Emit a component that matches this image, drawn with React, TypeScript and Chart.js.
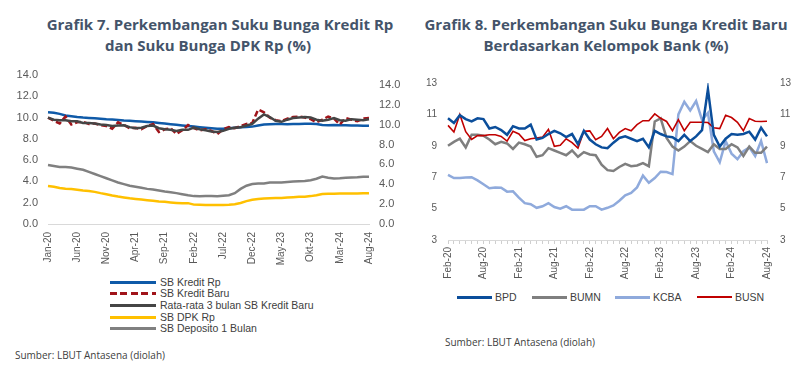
import React, { useEffect, useRef } from "react";
import { Chart, registerables } from "chart.js";

Chart.register(...registerables);

// ---------- Data: Grafik 7 (Jan-20 .. Aug-24, monthly) ----------
const MONTHS = ["Jan", "Feb", "Mar", "Apr", "May", "Jun", "Jul", "Aug", "Sep", "Okt", "Nov", "Dec"];
function monthCategories(startMonth: number, startYear: number, count: number): string[] {
  const out: string[] = [];
  for (let i = 0; i < count; i++) {
    const m = (startMonth + i) % 12;
    const y = startYear + Math.floor((startMonth + i) / 12);
    out.push(MONTHS[m] + "-" + String(y).slice(2));
  }
  return out;
}

const leftCategories = monthCategories(0, 2020, 56);
const leftTickLabels = ["Jan-20", "Jun-20", "Nov-20", "Apr-21", "Sep-21", "Feb-22", "Jul-22", "Dec-22", "May-23", "Okt-23", "Mar-24", "Aug-24"];
const leftAxisTicks = [0, 2, 4, 6, 8, 10, 12, 14];

const sbKreditRp = [10.5, 10.45, 10.35, 10.2, 10.12, 10.05, 10.0, 9.97, 9.93, 9.9, 9.85, 9.82, 9.78, 9.73, 9.7, 9.66, 9.62, 9.58, 9.55, 9.5, 9.45, 9.38, 9.32, 9.26, 9.2, 9.15, 9.1, 9.05, 9.0, 8.95, 8.95, 9.0, 9.05, 9.1, 9.12, 9.15, 9.25, 9.35, 9.38, 9.4, 9.4, 9.38, 9.4, 9.4, 9.41, 9.42, 9.4, 9.3, 9.28, 9.3, 9.28, 9.27, 9.25, 9.25, 9.24, 9.22];
const sbKreditBaru = [10.0, 9.7, 9.45, 10.1, 9.35, 9.55, 9.6, 9.4, 9.45, 9.3, 9.2, 8.95, 9.55, 9.3, 9.0, 9.05, 8.9, 9.2, 9.4, 8.65, 8.9, 9.0, 8.45, 8.8, 9.3, 9.0, 8.8, 8.9, 8.75, 8.45, 8.9, 9.1, 9.0, 9.2, 9.4, 9.5, 10.75, 10.5, 10.0, 9.75, 9.65, 9.9, 10.05, 10.1, 10.0, 9.85, 9.55, 9.8, 10.1, 9.9, 9.35, 9.95, 9.8, 9.65, 9.9, 9.95];
const rataRata3Bulan = [10.0, 9.8, 9.75, 9.75, 9.65, 9.65, 9.5, 9.48, 9.45, 9.35, 9.3, 9.2, 9.25, 9.28, 9.1, 9.0, 9.05, 9.2, 9.25, 9.0, 8.9, 8.85, 8.75, 8.85, 8.85, 9.05, 8.9, 8.8, 8.7, 8.65, 8.75, 8.95, 9.05, 9.1, 9.25, 9.4, 9.9, 10.3, 10.05, 9.7, 9.6, 9.8, 9.95, 10.0, 10.05, 10.0, 9.8, 9.7, 9.8, 9.95, 9.75, 9.7, 9.85, 9.8, 9.75, 9.85];
const sbDpkRp = [3.57, 3.5, 3.38, 3.32, 3.28, 3.22, 3.15, 3.1, 3.02, 2.9, 2.8, 2.68, 2.58, 2.5, 2.42, 2.36, 2.3, 2.24, 2.18, 2.12, 2.08, 2.03, 1.98, 1.94, 1.96, 1.82, 1.8, 1.78, 1.78, 1.78, 1.78, 1.8, 1.85, 1.98, 2.15, 2.28, 2.35, 2.4, 2.42, 2.45, 2.45, 2.5, 2.52, 2.55, 2.57, 2.62, 2.7, 2.82, 2.85, 2.85, 2.86, 2.87, 2.86, 2.87, 2.88, 2.9];
const sbDeposito1Bulan = [5.55, 5.45, 5.35, 5.35, 5.3, 5.2, 5.1, 4.9, 4.7, 4.5, 4.3, 4.1, 3.9, 3.75, 3.6, 3.5, 3.4, 3.3, 3.25, 3.15, 3.05, 2.98, 2.9, 2.8, 2.7, 2.62, 2.6, 2.62, 2.62, 2.6, 2.65, 2.7, 2.9, 3.3, 3.6, 3.75, 3.8, 3.8, 3.9, 3.9, 3.9, 3.95, 4.0, 4.02, 4.05, 4.12, 4.25, 4.45, 4.35, 4.28, 4.3, 4.35, 4.38, 4.4, 4.45, 4.45];

// ---------- Data: Grafik 8 (Feb-20 .. Aug-24, monthly) ----------
const rightCategories = monthCategories(1, 2020, 55);
const rightTickLabels = ["Feb-20", "Aug-20", "Feb-21", "Aug-21", "Feb-22", "Aug-22", "Feb-23", "Aug-23", "Feb-24", "Aug-24"];

const bpd = [10.75, 10.45, 10.95, 10.7, 10.55, 10.75, 10.7, 10.1, 10.2, 10.0, 9.7, 10.25, 10.1, 10.1, 10.35, 9.4, 9.5, 9.75, 9.95, 9.8, 9.55, 9.75, 9.1, 9.95, 9.4, 9.1, 8.9, 8.85, 9.2, 9.5, 9.6, 9.45, 9.3, 9.45, 8.9, 9.95, 9.75, 9.6, 9.55, 9.3, 9.7, 9.3, 9.6, 10.0, 12.6, 9.7, 8.95, 9.45, 9.75, 9.7, 9.75, 9.9, 9.4, 10.15, 9.6];
const bumn = [9.0, 9.25, 9.45, 8.9, 9.7, 9.7, 9.65, 9.4, 9.1, 9.25, 9.15, 8.8, 9.2, 9.1, 8.95, 8.3, 8.4, 8.85, 8.7, 8.55, 8.4, 8.7, 8.3, 8.6, 8.45, 8.4, 7.8, 7.45, 7.4, 7.65, 7.85, 7.7, 7.75, 7.9, 7.7, 10.55, 10.75, 9.5, 8.95, 8.7, 8.95, 9.3, 9.0, 8.8, 8.6, 9.1, 8.8, 8.8, 9.1, 8.9, 8.35, 8.95, 8.55, 8.55, 8.95];
const kcba = [7.15, 6.95, 6.95, 6.98, 7.0, 6.8, 6.55, 6.3, 6.35, 6.33, 6.08, 6.1, 5.7, 5.35, 5.28, 5.05, 5.15, 5.35, 5.1, 5.0, 5.15, 4.93, 4.93, 4.93, 5.15, 5.15, 4.93, 5.05, 5.2, 5.5, 5.85, 6.0, 6.35, 7.1, 6.65, 6.95, 7.35, 7.33, 7.2, 11.0, 11.8, 11.25, 11.85, 10.65, 11.1, 8.65, 7.95, 9.3, 8.5, 8.15, 8.65, 8.9, 8.35, 9.3, 7.9];
const busn = [10.3, 9.88, 11.0, 9.9, 9.4, 9.65, 9.65, 9.7, 9.7, 9.6, 9.3, 9.92, 9.75, 9.33, 9.45, 9.5, 9.55, 10.05, 8.97, 9.03, 9.45, 9.2, 8.86, 9.92, 9.95, 9.39, 9.6, 10.1, 9.45, 9.85, 10.1, 9.96, 10.35, 10.6, 10.6, 11.03, 10.75, 10.55, 9.96, 10.66, 9.96, 10.5, 10.5, 10.5, 10.48, 10.15, 10.1, 10.95, 10.8, 10.5, 9.96, 10.73, 10.56, 10.55, 10.56];
const rightAxisTicks = [3, 5, 7, 9, 11, 13];

// ---------- Styles ----------
const TICK_FONT = "'Liberation Sans', Arial, sans-serif";
const TICK_COLOR = "#595959";
const TITLE_COLOR = "#44546a";
const TEXT_COLOR = "#404040";

const C_KREDIT = "#0f5aa8";
const C_BARU = "#a0141a";
const C_RATA = "#454545";
const C_DPK = "#ffc000";
const C_DEPO = "#808080";
const C_BPD = "#0b4e9b";
const C_BUMN = "#7f7f7f";
const C_KCBA = "#8faadc";
const C_BUSN = "#c00000";

// y-axis helper: label offset is produced by an invisible tick length so it does not inflate the layout padding
function yAxis(position: string, min: number, max: number, tickValues: number[], offset: number, width: number, size: number, fmt: (v: number) => string): any {
  return {
    position,
    min,
    max,
    afterBuildTicks: (s: any) => { s.ticks = tickValues.map((v) => ({ value: v })); },
    grid: { display: false, drawTicks: true, tickLength: offset },
    border: { display: false },
    ticks: { padding: 0, color: TICK_COLOR, font: { family: TICK_FONT, size }, callback: (v: any) => fmt(Number(v)) },
    afterFit: (s: any) => { s.width = width; },
  };
}

function makeLeftConfig(): any {
  return {
    type: "line",
    data: {
      labels: leftCategories,
      datasets: [
        { label: "SB Kredit Rp", data: sbKreditRp, borderColor: C_KREDIT, borderWidth: 2.5, order: 2 },
        { label: "SB Kredit Baru", data: sbKreditBaru, borderColor: C_BARU, borderWidth: 2.5, borderDash: [6, 3], order: 1 },
        { label: "Rata-rata 3 bulan SB Kredit Baru", data: rataRata3Bulan, borderColor: C_RATA, borderWidth: 2.5, order: 0 },
        { label: "SB DPK Rp", data: sbDpkRp, borderColor: C_DPK, borderWidth: 2.5, order: 3 },
        { label: "SB Deposito 1 Bulan", data: sbDeposito1Bulan, borderColor: C_DEPO, borderWidth: 2.5, order: 4 },
      ],
    },
    options: {
      animation: false,
      responsive: false,
      maintainAspectRatio: false,
      layout: { autoPadding: false, padding: { top: 10, left: 0, right: 0, bottom: 0 } },
      elements: { point: { radius: 0 }, line: { tension: 0, fill: false } },
      plugins: { legend: { display: false }, tooltip: { enabled: false }, title: { display: false } },
      scales: {
        x: {
          grid: { display: true, drawOnChartArea: false, drawTicks: false },
          border: { display: true, color: "#d9d9d9", width: 1 },
          ticks: {
            autoSkip: false,
            minRotation: 90,
            maxRotation: 90,
            padding: 8,
            color: TICK_COLOR,
            font: { family: TICK_FONT, size: 10 },
            callback: (_v: any, i: number) => (leftTickLabels.includes(leftCategories[i]) ? leftCategories[i] : ""),
          },
          afterFit: (s: any) => { s.height = 46; },
        },
        y: yAxis("left", 0, 14, leftAxisTicks, 10, 48, 11, (v) => v.toFixed(1)),
        y2: yAxis("right", 0, 15, leftAxisTicks, 10, 31, 11, (v) => v.toFixed(1)),
      },
    },
  };
}

function makeRightConfig(): any {
  return {
    type: "line",
    data: {
      labels: rightCategories,
      datasets: [
        { label: "BPD", data: bpd, borderColor: C_BPD, borderWidth: 2.5, order: 0 },
        { label: "BUMN", data: bumn, borderColor: C_BUMN, borderWidth: 2.5, order: 2 },
        { label: "KCBA", data: kcba, borderColor: C_KCBA, borderWidth: 2.5, order: 3 },
        { label: "BUSN", data: busn, borderColor: C_BUSN, borderWidth: 1.6, order: 1 },
      ],
    },
    options: {
      animation: false,
      responsive: false,
      maintainAspectRatio: false,
      layout: { autoPadding: false, padding: { top: 13, left: 0, right: 0, bottom: 0 } },
      elements: { point: { radius: 0 }, line: { tension: 0, fill: false } },
      plugins: { legend: { display: false }, tooltip: { enabled: false }, title: { display: false } },
      scales: {
        x: {
          grid: { display: true, drawOnChartArea: false, drawTicks: true, tickLength: 4, color: "#cfcfcf" },
          border: { display: true, color: "#d9d9d9", width: 1 },
          ticks: {
            autoSkip: false,
            minRotation: 90,
            maxRotation: 90,
            padding: 3,
            color: TICK_COLOR,
            font: { family: TICK_FONT, size: 10 },
            callback: (_v: any, i: number) => (rightTickLabels.includes(rightCategories[i]) ? rightCategories[i] : ""),
          },
          afterFit: (s: any) => { s.height = 45; },
        },
        y: yAxis("left", 3, 13, rightAxisTicks, 11, 48, 10, (v) => String(v)),
        y2: yAxis("right", 3, 13, rightAxisTicks, 13, 37, 10, (v) => String(v)),
      },
    },
  };
}

function ChartCanvas({ makeConfig, left, top, width, height }: any) {
  const ref = useRef<HTMLCanvasElement>(null);
  useEffect(() => {
    const chart = new Chart(ref.current as HTMLCanvasElement, makeConfig());
    return () => chart.destroy();
  }, []);
  return (
    <canvas
      ref={ref}
      width={width}
      height={height}
      style={{ position: "absolute", left, top, width, height, display: "block" }}
    />
  );
}

function TitleLine({ text, center, top }: any) {
  return (
    <div
      style={{
        position: "absolute",
        left: center - 250,
        top,
        width: 500,
        textAlign: "center",
        fontFamily: "'Open Sans', sans-serif",
        fontWeight: 700,
        fontSize: 15,
        lineHeight: "21px",
        color: TITLE_COLOR,
        whiteSpace: "nowrap",
      }}
    >
      {text}
    </div>
  );
}

const leftLegend = [
  { label: "SB Kredit Rp", color: C_KREDIT, dashed: false },
  { label: "SB Kredit Baru", color: C_BARU, dashed: true },
  { label: "Rata-rata 3 bulan SB Kredit Baru", color: C_RATA, dashed: false },
  { label: "SB DPK Rp", color: C_DPK, dashed: false },
  { label: "SB Deposito 1 Bulan", color: C_DEPO, dashed: false },
];

const rightLegend = [
  { label: "BPD", color: C_BPD, x: 457, h: 3 },
  { label: "BUMN", color: C_BUMN, x: 532, h: 3 },
  { label: "KCBA", color: C_KCBA, x: 615, h: 3 },
  { label: "BUSN", color: C_BUSN, x: 697, h: 2 },
];

const legendText: React.CSSProperties = {
  fontFamily: TICK_FONT,
  fontSize: 10.5,
  color: TEXT_COLOR,
  whiteSpace: "nowrap",
  lineHeight: "12px",
};

const sourceStyle: React.CSSProperties = {
  position: "absolute",
  fontFamily: "'Open Sans', sans-serif",
  fontSize: 10,
  color: TEXT_COLOR,
  whiteSpace: "nowrap",
  lineHeight: "14px",
};

export default function App() {
  return (
    <div style={{ position: "absolute", left: 0, top: 0, width: 804, height: 369, background: "#fff", overflow: "hidden" }}>
      <TitleLine text="Grafik 7. Perkembangan Suku Bunga Kredit Rp" center={220} top={14} />
      <TitleLine text="dan Suku Bunga DPK Rp (%)" center={208} top={34.5} />
      <TitleLine text="Grafik 8. Perkembangan Suku Bunga Kredit Baru" center={606} top={14} />
      <TitleLine text="Berdasarkan Kelompok Bank (%)" center={606} top={34.5} />

      <ChartCanvas makeConfig={makeLeftConfig} left={0} top={65} width={400} height={205} />
      <ChartCanvas makeConfig={makeRightConfig} left={400} top={70} width={404} height={215} />

      {leftLegend.map((it, i) => {
        const cy = 282 + i * 11.7;
        return (
          <React.Fragment key={it.label}>
            <div
              style={{
                position: "absolute",
                left: 110,
                top: cy - 1.5,
                width: 46,
                height: 3,
                background: it.dashed
                  ? `repeating-linear-gradient(90deg, ${it.color} 0 7px, transparent 7px 10.5px)`
                  : it.color,
              }}
            />
            <div style={{ position: "absolute", left: 160, top: cy - 6.5, ...legendText }}>{it.label}</div>
          </React.Fragment>
        );
      })}

      {rightLegend.map((it) => (
        <React.Fragment key={it.label}>
          <div style={{ position: "absolute", left: it.x, top: 297 - it.h / 2, width: 35, height: it.h, background: it.color }} />
          <div style={{ position: "absolute", left: it.x + 38, top: 297 - 6.5, ...legendText }}>{it.label}</div>
        </React.Fragment>
      ))}

      <div style={{ ...sourceStyle, left: 15, top: 347.5 }}>Sumber: LBUT Antasena (diolah)</div>
      <div style={{ ...sourceStyle, left: 445, top: 335 }}>Sumber: LBUT Antasena (diolah)</div>
    </div>
  );
}
